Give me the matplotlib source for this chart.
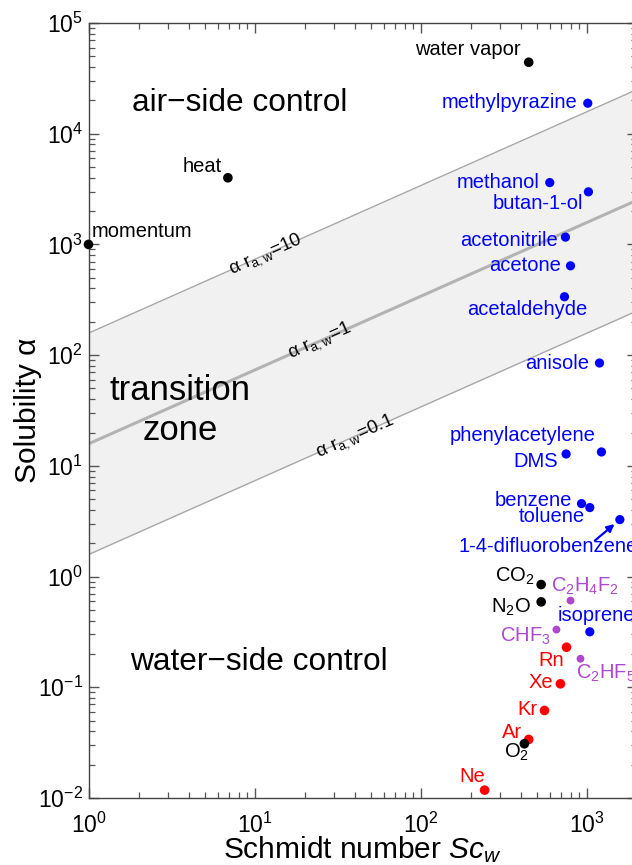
import matplotlib
matplotlib.use('Agg')
import matplotlib.pyplot as plt
import numpy as np

plt.rcParams['font.family'] = ['Liberation Sans', 'DejaVu Sans']
plt.rcParams['mathtext.fontset'] = 'custom'
plt.rcParams['mathtext.rm'] = 'Liberation Sans'
plt.rcParams['mathtext.it'] = 'Liberation Sans:italic'
plt.rcParams['mathtext.bf'] = 'Liberation Sans:bold'
plt.rcParams['mathtext.default'] = 'regular'

# ---------------- data ----------------
names = ['momentum', 'heat', 'water vapor',
         'methylpyrazine', 'methanol', 'butan-1-ol', 'acetonitrile', 'acetone',
         'acetaldehyde', 'anisole', 'phenylacetylene', 'DMS', 'benzene', 'toluene',
         '1-4-difluorobenzene', 'CO$_2$', 'N$_2$O', 'C$_2$H$_4$F$_2$', 'isoprene',
         'CHF$_3$', 'Rn', 'C$_2$HF$_5$', 'Xe', 'Kr', 'Ar', 'O$_2$', 'Ne']
schmidt = [1.0, 6.9, 446,
           1011, 597, 1020, 742, 796,
           732, 1189, 1222, 749, 927, 1040,
           1577, 530, 530, 796, 1040,
           655, 753, 914, 692, 555, 446, 420, 242]
solubility = [1000, 4000, 44200,
              18850, 3620, 2985, 1164, 641,
              337, 84.9, 13.35, 12.8, 4.56, 4.2,
              3.27, 0.847, 0.591, 0.607, 0.317,
              0.332, 0.230, 0.181, 0.1075, 0.0617, 0.0338, 0.0309, 0.01178]
groups = ['other', 'other', 'other',
          'organic', 'organic', 'organic', 'organic', 'organic',
          'organic', 'organic', 'organic', 'organic', 'organic', 'organic',
          'organic', 'other', 'other', 'fluoro', 'organic',
          'fluoro', 'noble', 'fluoro', 'noble', 'noble', 'noble', 'other', 'noble']
line_levels = [10, 1, 0.1]          # alpha * r_aw
line_coef = 15.8                     # alpha at Sc=1 for alpha*r_aw = 1
line_exponent = 2.0 / 3.0

group_color = {'other': 'black', 'organic': '#0000ff', 'noble': '#ff0000', 'fluoro': '#ad48cf'}
group_size = {'other': 48, 'organic': 44, 'noble': 48, 'fluoro': 32}

# label layout: offset in pixels (dx, dy), ha, va
label_layout = {
    'momentum': (3, 13, 'left', 'center'),
    'heat': (-6, 11, 'right', 'center'),
    'water vapor': (-8, 13, 'right', 'center'),
    'methylpyrazine': (-10, 1, 'right', 'center'),
    'methanol': (-10, 0, 'right', 'center'),
    'butan-1-ol': (-5, -12, 'right', 'center'),
    'acetonitrile': (-8, -3, 'right', 'center'),
    'acetone': (-10, 0, 'right', 'center'),
    'acetaldehyde': (-37.5, -13, 'center', 'center'),
    'anisole': (-10, 0, 'right', 'center'),
    'phenylacetylene': (-6, 16, 'right', 'center'),
    'DMS': (-8, -8, 'right', 'center'),
    'benzene': (-9, 3, 'right', 'center'),
    'toluene': (-5, -9, 'right', 'center'),
    '1-4-difluorobenzene': (-161.6, -27.3, 'left', 'center'),
    'CO$_2$': (-7, 3, 'right', 'baseline'),
    'N$_2$O': (-10, -11, 'right', 'baseline'),
    'C$_2$H$_4$F$_2$': (14.7, 8.7, 'center', 'baseline'),
    'isoprene': (-32, 10.6, 'left', 'baseline'),
    'CHF$_3$': (-6, -11.7, 'right', 'baseline'),
    'Rn': (-3, -19, 'right', 'baseline'),
    'C$_2$HF$_5$': (-4, -20, 'left', 'baseline'),
    'Xe': (-7, -4, 'right', 'baseline'),
    'Kr': (-7, -4, 'right', 'baseline'),
    'Ar': (-7, 1, 'right', 'baseline'),
    'O$_2$': (4.3, -14, 'right', 'baseline'),
    'Ne': (-12, 8, 'center', 'baseline'),
}

# ---------------- figure ----------------
W, H = 632, 865
fig = plt.figure(figsize=(W / 100, H / 100), dpi=100)
ax = fig.add_axes([88.5 / W, 67 / H, (637 - 88.5) / W, (798 - 23) / H])
ax.set_xscale('log')
ax.set_yscale('log')
xmin, xmax = 1.0, 2000.0
ax.set_xlim(xmin, xmax)
ax.set_ylim(1e-2, 1e5)

# transition zone
sc_line = np.logspace(np.log10(xmin), np.log10(xmax), 200)


def line_alpha(sc, level):
    return line_coef * level * np.asarray(sc) ** line_exponent


ax.fill_between(sc_line, line_alpha(sc_line, 0.1), line_alpha(sc_line, 10),
                color='#f1f1f1', zorder=0, lw=0)
for lev in line_levels:
    lw = 2.2 if lev == 1 else 1.0
    col = '#b3b3b3' if lev == 1 else '#a8a8a8'
    ax.plot(sc_line, line_alpha(sc_line, lev), color=col, lw=lw, zorder=1)

# line labels
fig.canvas.draw()
p1 = ax.transData.transform((1, line_alpha(1, 1)))
p2 = ax.transData.transform((1000, line_alpha(1000, 1)))
angle = np.degrees(np.arctan2(p2[1] - p1[1], p2[0] - p1[0]))
label_x = {10: 11.6, 1: 24.8, 0.1: 40.3}
label_txt = {10: '10', 1: '1', 0.1: '0.1'}
for lev in line_levels:
    xl = label_x[lev]
    ax.text(xl, line_alpha(xl, lev), 'α r$_{a,w}$=' + label_txt[lev],
            rotation=angle, rotation_mode='anchor', ha='center', va='center',
            fontsize=13.5, zorder=2)

# points
for n, x, y, g in zip(names, schmidt, solubility, groups):
    c = group_color[g]
    ax.scatter([x], [y], s=group_size[g], color=c, edgecolors='none', zorder=4, clip_on=False)
    dx, dy, ha, va = label_layout[n]
    ax.annotate(n, (x, y), xytext=(dx, dy), textcoords='offset pixels',
                ha=ha, va=va, color=c, fontsize=14.5, zorder=5, annotation_clip=False)

# arrow for 1-4-difluorobenzene
i_df = names.index('1-4-difluorobenzene')
ax.annotate('', xy=(schmidt[i_df], solubility[i_df]), xytext=(-25, -21),
            textcoords='offset pixels',
            arrowprops=dict(arrowstyle='-|>', color='#0000ff', lw=1.6,
                            mutation_scale=11, shrinkA=0, shrinkB=5))

# region texts
ax.text(0.276, 0.897, 'air\u2212side control', transform=ax.transAxes,
        ha='center', va='center', fontsize=22.8)
ax.text(0.167, 0.526, 'transition', transform=ax.transAxes,
        ha='center', va='center', fontsize=25)
ax.text(0.167, 0.474, 'zone', transform=ax.transAxes,
        ha='center', va='center', fontsize=25)
ax.text(0.31, 0.1755, 'water\u2212side control', transform=ax.transAxes,
        ha='center', va='center', fontsize=22.8)

# ticks and spines
ax.set_xticks([1, 10, 100, 1000])
ax.set_yticks([10.0 ** k for k in range(-2, 6)])
ax.xaxis.set_minor_formatter(matplotlib.ticker.NullFormatter())
ax.yaxis.set_minor_formatter(matplotlib.ticker.NullFormatter())
ax.tick_params(which='both', direction='in', top=True, right=True, color='#555555')
ax.tick_params(which='major', length=7, width=1, labelsize=16.5)
ax.tick_params(axis='x', which='major', pad=10.5)
ax.tick_params(axis='y', which='major', pad=4)
ax.tick_params(which='minor', length=4, width=0.9)
for sp in ax.spines.values():
    sp.set_color('#444444')
    sp.set_linewidth(1.0)

ax.set_xlabel('Schmidt number $\\mathit{Sc}_\\mathit{w}$', fontsize=21.5)
ax.set_ylabel('Solubility α', fontsize=21.5)
ax.xaxis.set_label_coords(0.5, -0.047)
ax.yaxis.set_label_coords(-0.085, 0.5)

fig.savefig('out.png', dpi=100)
